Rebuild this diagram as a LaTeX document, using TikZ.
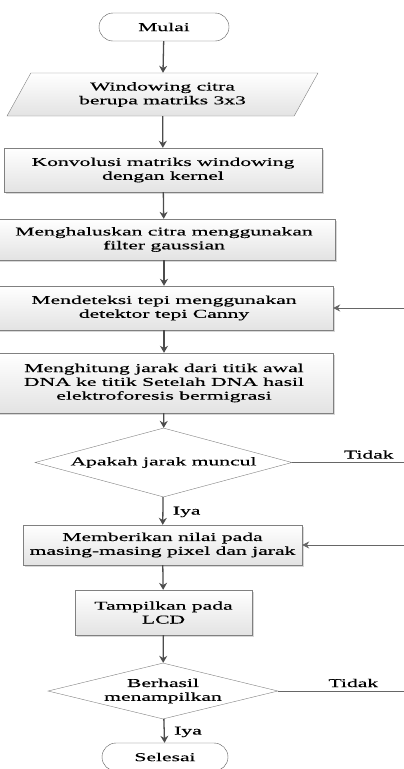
\documentclass[tikz,border=0pt]{standalone}
\usepackage{fontspec}
\setmainfont[FakeStretch=1.8,FakeBold=0.4]{Liberation Serif}
\usetikzlibrary{shapes.geometric,shapes.misc,shadows,arrows.meta}

\begin{document}
\begin{tikzpicture}[x=1pt,y=-1pt,font=\fontsize{12}{13.8}\selectfont]
  \tikzstyle{blk}=[draw=gray,rectangle,top color=white,bottom color=gray!22,drop shadow={shadow xshift=1.5pt,shadow yshift=-1.5pt,fill=gray!60},align=center,inner sep=0pt]
  \tikzstyle{term}=[draw=gray!70!black,rounded rectangle,fill=white,minimum height=28pt,inner sep=0pt]
  \tikzstyle{io}=[draw=gray,trapezium,trapezium left angle=46,trapezium right angle=134,trapezium stretches body,top color=white,bottom color=gray!22,align=center,inner sep=0pt]
  \tikzstyle{dec}=[draw=gray,diamond,fill=white,align=center,inner sep=0pt]
  \tikzstyle{arr}=[->,>={Stealth[length=7pt,width=8pt]},line width=1.3pt,draw=black!70]
  \tikzstyle{back}=[->,>={Stealth[length=7pt,width=7pt]},line width=0.9pt,draw=black!60]

  \useasboundingbox (0,0) rectangle (404,769);
  \clip (0,0) rectangle (404,769);

  % main column
  \node[term,minimum width=130pt] (mulai) at (164,27) {Mulai};
  \node[io,minimum width=311pt,minimum height=43pt] (windowing) at (162.5,94.5) {Windowing citra\\berupa matriks 3x3};
  \node[blk,minimum width=318pt,minimum height=44pt] (konvolusi) at (163,170) {Konvolusi matriks windowing\\dengan kernel};
  \node[blk,minimum width=342pt,minimum height=41pt] (menghaluskan) at (164,239.5) {Menghaluskan citra menggunakan\\filter gaussian};
  \node[blk,minimum width=338pt,minimum height=44pt] (mendeteksi) at (164,308) {Mendeteksi tepi menggunakan\\detektor tepi Canny};
  \node[blk,minimum width=338pt,minimum height=60pt] (menghitung) at (164,383) {Menghitung jarak dari titik awal\\DNA ke titik Setelah DNA hasil\\elektroforesis bermigrasi};
  \node[dec,aspect=3.7,minimum width=257pt,minimum height=69pt] (jarak) at (163.5,462.5) {Apakah jarak muncul};
  \node[blk,minimum width=279pt,minimum height=40pt] (memberikan) at (162.5,545) {Memberikan nilai pada\\masing-masing pixel dan jarak};
  \node[blk,minimum width=177pt,minimum height=45pt] (tampilkan) at (163.5,612.5) {Tampilkan pada\\LCD};
  \node[dec,aspect=4.1,minimum width=230pt,minimum height=56pt] (berhasil) at (163,691) {Berhasil\\menampilkan};
  \node[term,minimum width=126pt] (selesai) at (165,757) {Selesai};

  \draw[arr] (mulai) -- (windowing);
  \draw[arr] (windowing) -- (konvolusi);
  \draw[arr] (konvolusi) -- (menghaluskan);
  \draw[arr] (menghaluskan) -- (mendeteksi);
  \draw[arr] (mendeteksi) -- (menghitung);
  \draw[arr] (menghitung) -- (jarak);
  \draw[arr] (jarak) -- node[right,xshift=6pt,yshift=-1pt] (iyaA) {Iya} (memberikan);
  \draw[arr] (memberikan) -- (tampilkan);
  \draw[arr] (tampilkan) -- (berhasil);
  \draw[arr] (berhasil) -- node[right,xshift=6pt,yshift=-1pt] (iyaB) {Iya} (selesai);

  % Tidak branches (run off the right edge)
  \coordinate (tidakA) at (410,462.5);
  \coordinate (tidakB) at (410,691);
  \draw[line width=0.9pt,draw=black!60] (jarak.east) -- node[above,pos=0.65] (labA) {Tidak} (tidakA);
  \draw[line width=0.9pt,draw=black!60] (berhasil.east) -- node[above,pos=0.57] (labB) {Tidak} (tidakB);

  % returns from the right edge
  \coordinate (balikA) at (410,308);
  \coordinate (balikB) at (410,545);
  \draw[back] (balikA) -- (mendeteksi.east);
  \draw[back] (balikB) -- (memberikan.east);
\end{tikzpicture}
\end{document}
